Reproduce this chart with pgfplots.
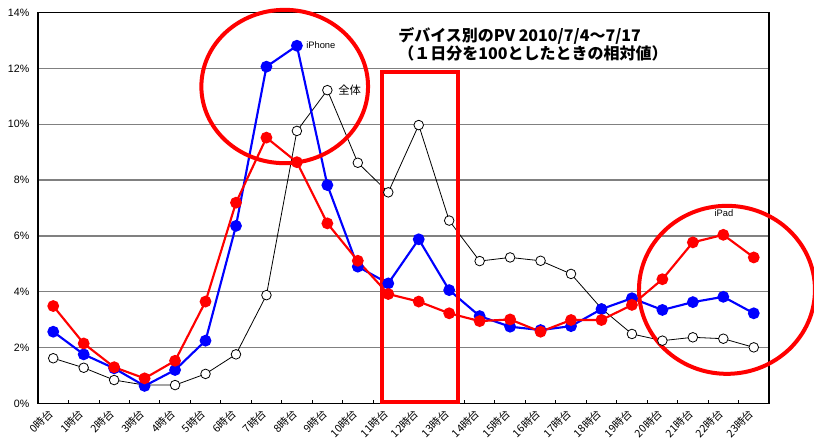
\documentclass[border=0pt]{standalone}
\usepackage{pgfplots}
\pgfplotsset{compat=1.18}
\usepackage{fontspec}
\setmainfont{Liberation Sans}
\newfontfamily\jp{Noto Sans CJK JP}
\definecolor{gridgray}{RGB}{128,128,128}
\definecolor{xred}{RGB}{255,0,0}
\definecolor{xblue}{RGB}{0,0,255}
\begin{document}
\begin{tikzpicture}[x=0.75pt,y=0.75pt]
\useasboundingbox (0,0) rectangle (814,444);
\begin{axis}[
  at={(28.5pt,30.375pt)}, anchor=south west,
  scale only axis, width=548.25pt, height=293.25pt,
  xmin=0, xmax=24, ymin=0, ymax=14,
  axis line style={black, line width=0.9pt},
  ytick={0,2,...,14},
  yticklabels={0\%,2\%,4\%,6\%,8\%,10\%,12\%,14\%},
  yticklabel style={font=\fontsize{8}{9}\selectfont, xshift=-3pt},
  ymajorgrids, grid style={gridgray, line width=0.9pt},
  ytick style={draw=none},
  xtick={0,...,24},
  xticklabels={},
  xtick pos=bottom, tick align=inside,
  major tick length=3pt,
  xtick style={black, line width=0.6pt},
  extra x ticks={0.5,1.5,...,23.5},
  extra x tick labels={0時台,1時台,2時台,3時台,4時台,5時台,6時台,7時台,8時台,9時台,10時台,11時台,12時台,13時台,14時台,15時台,16時台,17時台,18時台,19時台,20時台,21時台,22時台,23時台},
  extra x tick style={major tick length=0pt, grid=none,
    xticklabel style={font=\jp\fontsize{8}{8}\selectfont, xshift=-1.5pt, yshift=-6pt, rotate=45, anchor=east, inner sep=0pt}},
  clip=false,
]
% overall
\addplot[black, line width=0.6pt, mark=*, mark size=3.6pt, mark options={fill=white, draw=black, line width=0.6pt}] coordinates {
(0.5,1.62)(1.5,1.28)(2.5,0.84)(3.5,0.66)(4.5,0.66)(5.5,1.06)(6.5,1.76)(7.5,3.88)
(8.5,9.76)(9.5,11.22)(10.5,8.62)(11.5,7.56)(12.5,9.97)(13.5,6.55)(14.5,5.10)(15.5,5.23)
(16.5,5.11)(17.5,4.64)(18.5,3.40)(19.5,2.49)(20.5,2.25)(21.5,2.37)(22.5,2.32)(23.5,2.01)};
% iPhone
\addplot[xblue, line width=1.6pt, mark=*, mark size=3.6pt, mark options={fill=xblue, draw=xblue}] coordinates {
(0.5,2.57)(1.5,1.76)(2.5,1.26)(3.5,0.63)(4.5,1.20)(5.5,2.25)(6.5,6.36)(7.5,12.06)
(8.5,12.81)(9.5,7.82)(10.5,4.90)(11.5,4.30)(12.5,5.88)(13.5,4.06)(14.5,3.13)(15.5,2.75)
(16.5,2.63)(17.5,2.77)(18.5,3.38)(19.5,3.77)(20.5,3.35)(21.5,3.63)(22.5,3.82)(23.5,3.23)};
% iPad
\addplot[xred, line width=1.6pt, mark=*, mark size=3.6pt, mark options={fill=xred, draw=xred}] coordinates {
(0.5,3.49)(1.5,2.15)(2.5,1.30)(3.5,0.90)(4.5,1.53)(5.5,3.65)(6.5,7.19)(7.5,9.52)
(8.5,8.64)(9.5,6.45)(10.5,5.11)(11.5,3.92)(12.5,3.65)(13.5,3.23)(14.5,2.95)(15.5,3.01)
(16.5,2.57)(17.5,2.99)(18.5,2.99)(19.5,3.53)(20.5,4.45)(21.5,5.77)(22.5,6.04)(23.5,5.23)};
% labels
\node[anchor=west, font=\fontsize{7}{8}\selectfont, inner sep=0pt] at (axis cs:8.80,12.84) {iPhone};
\node[anchor=west, font=\jp\fontsize{8.5}{9}\selectfont, inner sep=0pt] at (axis cs:9.85,11.22) {全体};
\node[anchor=center, font=\fontsize{7}{8}\selectfont, inner sep=0pt] at (axis cs:22.52,6.82) {iPad};
% title
\node[anchor=north west, align=left, font=\jp\bfseries\fontsize{12}{12}\selectfont, inner sep=0pt] at (axis cs:11.82,13.48) {デバイス別のPV 2010/7/4～7/17\\（１日分を100としたときの相対値）};
% annotations
\draw[xred, line width=3pt] (axis cs:8.10,11.35) ellipse [x radius=62.5pt, y radius=57.5pt];
\draw[xred, line width=3pt] (axis cs:22.62,4.07) ellipse [x radius=66pt, y radius=63pt];
\draw[xred, line width=3pt] (axis cs:11.29,0.05) rectangle (axis cs:13.79,11.87);
\end{axis}
\end{tikzpicture}
\end{document}
